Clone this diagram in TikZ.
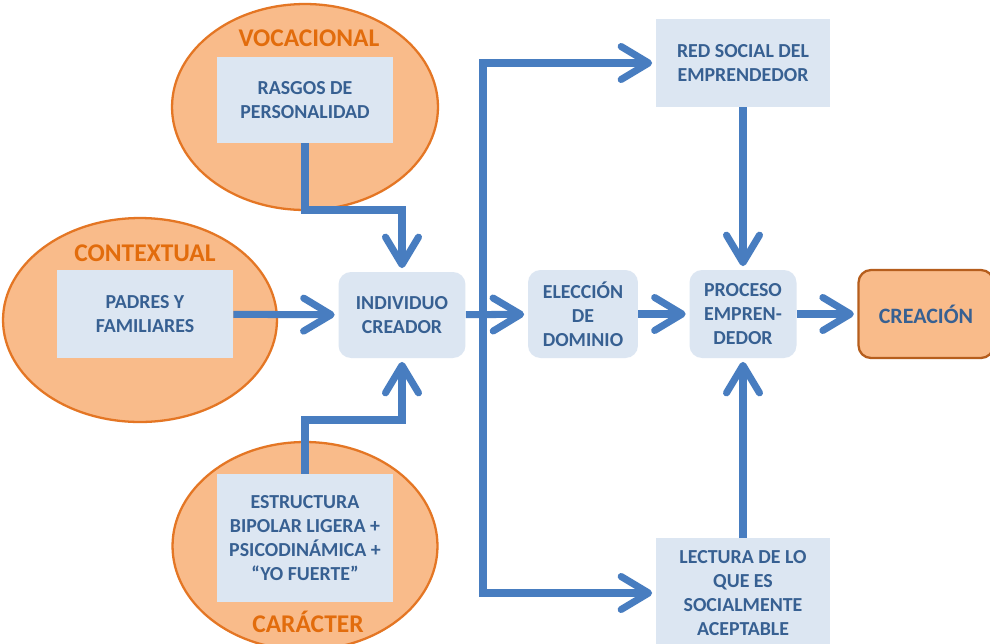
\documentclass[tikz,border=0pt]{standalone}
\usepackage{fontspec}
\setmainfont{Carlito}
\usetikzlibrary{arrows.meta,shapes.geometric}
\definecolor{boxfill}{RGB}{220,230,242}
\definecolor{boxtext}{RGB}{55,96,146}
\definecolor{flowblue}{RGB}{72,125,192}
\definecolor{halofill}{RGB}{249,187,138}
\definecolor{haloline}{RGB}{228,118,36}
\definecolor{tagtext}{RGB}{226,108,12}
\begin{document}
\begin{tikzpicture}[x=0.02cm,y=-0.02cm,
  every node/.style={font=\fontsize{11.3}{13.6}\selectfont\bfseries,text=boxtext,align=center},
  halo/.style={ellipse,draw=haloline,fill=halofill,line width=1.3pt,inner sep=0pt},
  tag/.style={text=tagtext,font=\fontsize{14.5}{17}\selectfont\bfseries},
  sqbox/.style={fill=boxfill,inner sep=0pt},
  rdbox/.style={fill=boxfill,rounded corners=0.25cm,inner sep=0pt},
  flow/.style={draw=flowblue,line width=4pt,shorten >=2pt,
    -{Straight Barb[length=0.55cm,width=0.66cm,round]}}]
\clip (0,0) rectangle (990,643);
\fill[white] (0,0) rectangle (990,643);
% three sources
\node[halo,minimum width=5.32cm,minimum height=4.12cm] (E1) at (305,107) {};
\node[tag] (T1) at (309,38) {VOCACIONAL};
\node[sqbox,minimum width=3.54cm,minimum height=1.72cm] (rasgos) at (305,100) {RASGOS DE\\PERSONALIDAD};
\node[halo,minimum width=5.48cm,minimum height=4.08cm] (E2) at (140,320) {};
\node[tag] (T2) at (145,253) {CONTEXTUAL};
\node[sqbox,minimum width=3.52cm,minimum height=1.76cm] (padres) at (145,314) {PADRES Y\\FAMILIARES};
\node[halo,minimum width=5.3cm,minimum height=4.16cm] (E3) at (305,546) {};
\node[tag] (T3) at (308,622) {CARÁCTER};
\node[sqbox,minimum width=3.52cm,minimum height=2.56cm] (estructura) at (305,538) {ESTRUCTURA\\BIPOLAR LIGERA +\\PSICODINÁMICA +\\``YO FUERTE''};
% main line
\node[rdbox,minimum width=2.54cm,minimum height=1.72cm] (individuo) at (402,315) {INDIVIDUO\\CREADOR};
\node[rdbox,minimum width=2.2cm,minimum height=1.76cm] (eleccion) at (583,314) {ELECCIÓN\\DE\\DOMINIO};
\node[rdbox,minimum width=2.14cm,minimum height=1.76cm] (proceso) at (743,314) {PROCESO\\EMPREN-\\DEDOR};
\node[rdbox,fill=halofill,draw=haloline!80!black,line width=1.3pt,minimum width=2.7cm,minimum height=1.76cm] (creacion) at (926,314) {\fontsize{12.5}{15}\selectfont CREACIÓN};
\node[sqbox,minimum width=3.48cm,minimum height=1.76cm] (red) at (743,63) {RED SOCIAL DEL\\EMPRENDEDOR};
\node[sqbox,minimum width=3.48cm,minimum height=2.2cm] (lectura) at (743,593) {LECTURA DE LO\\QUE ES\\SOCIALMENTE\\ACEPTABLE};
% connectors
\coordinate (vbend) at (402,210);
\coordinate (cbend) at (402,420);
\coordinate (fork) at (483,315);
\draw[flow] (rasgos.south) |- (vbend) -- (individuo.north);
\draw[flow] (estructura.north) |- (cbend) -- (individuo.south);
\draw[flow] (padres) -- (individuo);
\draw[flow] (individuo) -- (eleccion);
\draw[flow] (fork) |- (red.west);
\draw[flow] (fork) |- (lectura.west);
\draw[flow] (eleccion) -- (proceso);
\draw[flow] (red) -- (proceso);
\draw[flow] (lectura) -- (proceso);
\draw[flow] (proceso) -- (creacion);
\end{tikzpicture}
\end{document}
